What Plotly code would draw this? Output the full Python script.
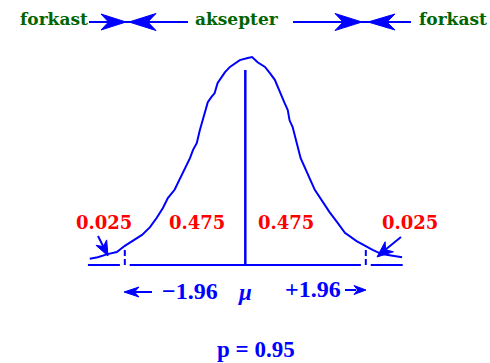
import math
import plotly.graph_objects as go

# ---- data -------------------------------------------------------------
# standard normal curve as drawn (z, density)
curve_z = [-2.53, -2.40, -2.24, -2.09, -1.96, -1.83, -1.68, -1.55, -1.44, -1.34,
           -1.26, -1.15, -0.90, -0.85, -0.79, -0.74, -0.69, -0.66, -0.61, -0.55,
           -0.50, -0.45, -0.38, -0.33, -0.25, -0.17, -0.09, 0.04, 0.11, 0.20,
           0.32, 0.40, 0.48, 0.53, 0.59, 0.64, 0.69, 0.72, 0.77, 0.81,
           0.85, 0.90, 1.13, 1.24, 1.37, 1.49, 1.62, 1.81, 1.94, 2.07,
           2.22, 2.55]
curve_density = [0.012, 0.015, 0.021, 0.025, 0.037, 0.046, 0.058, 0.073, 0.091, 0.110,
                 0.129, 0.145, 0.206, 0.222, 0.235, 0.260, 0.279, 0.295, 0.314, 0.324,
                 0.331, 0.351, 0.362, 0.372, 0.382, 0.389, 0.395, 0.399, 0.401, 0.391,
                 0.382, 0.370, 0.357, 0.343, 0.324, 0.312, 0.299, 0.279, 0.266, 0.247,
                 0.227, 0.206, 0.145, 0.125, 0.102, 0.083, 0.062, 0.046, 0.037, 0.029,
                 0.021, 0.015]

z_crit = 1.96
tail_labels = ["0.025", "0.025"]
half_labels = ["0.475", "0.475"]
region_labels = ["forkast", "aksepter", "forkast"]
crit_labels = ["\u22121.96", "+1.96"]
mu_label = "\u03bc"
p_label = "p = 0.95"

# ---- geometry ---------------------------------------------------------
W, H = 490, 363
X_RANGE = [-3.99, 3.98]
Y_RANGE = [-0.189, 0.511]
PX_X = W / (X_RANGE[1] - X_RANGE[0])
PX_Y = H / (Y_RANGE[1] - Y_RANGE[0])


def xp(px):
    return X_RANGE[0] + px / PX_X


def yp(py):
    return Y_RANGE[1] - py / PX_Y


BLUE = "#0000ff"
RED = "#ff0000"
GREEN = "#006400"
SERIF_WIDE = "DejaVu Serif"
SERIF = "Liberation Serif"

tail_end = 2.56
gap = 0.08
mu_top = 0.376
mark_top = 0.035

fig = go.Figure()
fig.add_trace(go.Scatter(x=curve_z, y=curve_density, mode="lines",
                         line=dict(color=BLUE, width=2), hoverinfo="skip",
                         showlegend=False))

shapes = []


def seg(x0, y0, x1, y1, width=2, dash=None):
    line = dict(color=BLUE, width=width)
    if dash:
        line["dash"] = dash
    shapes.append(dict(type="line", xref="x", yref="y", x0=x0, y0=y0,
                       x1=x1, y1=y1, line=line))


def head(tx, ty, dx, dy, length, width):
    """Filled notched arrowhead with its tip at data point (tx, ty);
    (dx, dy) is the pointing direction in screen pixels (y up)."""
    n = math.hypot(dx, dy)
    ux, uy = dx / n, dy / n
    vx, vy = -uy, ux
    pts = [(0, 0),
           (-length * ux + width / 2 * vx, -length * uy + width / 2 * vy),
           (-0.7 * length * ux, -0.7 * length * uy),
           (-length * ux - width / 2 * vx, -length * uy - width / 2 * vy)]
    path = "M" + " L".join(f"{x:.2f},{y:.2f}" for x, y in pts) + " Z"
    shapes.append(dict(type="path", xref="x", yref="y",
                       xsizemode="pixel", ysizemode="pixel",
                       xanchor=tx, yanchor=ty, path=path,
                       fillcolor=BLUE, line=dict(color=BLUE, width=1)))


# baseline, broken at the critical values
seg(-tail_end, 0, -z_crit - gap, 0)
seg(-z_crit + gap, 0, z_crit - gap, 0)
seg(z_crit + gap, 0, tail_end, 0)
# centre line at mu
seg(0, 0, 0, mu_top, width=2.5)
# dashed markers at the critical values
for s in (-1, 1):
    seg(s * z_crit, 0, s * z_crit, mark_top, width=2, dash="6px,3px")

# region arrows along the top
ty = yp(22)
seg(xp(89), ty, xp(188), ty)
head(xp(126), ty, 1, 0, 25, 16)
head(xp(129), ty, -1, 0, 27, 17)
seg(xp(293), ty, xp(411), ty)
head(xp(362), ty, 1, 0, 27, 17)
head(xp(368), ty, -1, 0, 27, 16)

# pointers from the tail labels
seg(xp(98), yp(236), xp(104), yp(248))
head(xp(108), yp(256), 10, -20, 15, 12)
seg(xp(401), yp(237), xp(385), yp(250))
head(xp(377), yp(257), -24, -20, 16, 13)

# arrows beside the critical values
seg(xp(152), yp(292), xp(135), yp(292))
head(xp(124), yp(292), -1, 0, 15, 10)
seg(xp(345), yp(290), xp(356), yp(290))
head(xp(366), yp(290), 1, 0, 12, 9)

annotations = []


def text(x, y, s, color, size, family, italic=False):
    annotations.append(dict(x=x, y=y, xref="x", yref="y", text=s,
                            showarrow=False, xanchor="center", yanchor="middle",
                            font=dict(family=family, size=size, color=color,
                                      weight="bold",
                                      style="italic" if italic else "normal")))


for cx, s in zip((53.5, 237, 453), region_labels):
    text(xp(cx), yp(19), s, GREEN, 17, SERIF_WIDE)
for cx, s in zip((104, 410), tail_labels):
    text(xp(cx), yp(222), s, RED, 18, SERIF_WIDE)
for cx, s in zip((196.5, 286), half_labels):
    text(xp(cx), yp(222.5), s, RED, 18, SERIF_WIDE)
text(xp(190), yp(291), crit_labels[0], BLUE, 24, SERIF)
text(xp(312.5), yp(289), crit_labels[1], BLUE, 24, SERIF)
text(xp(245), yp(292), mu_label, BLUE, 23, SERIF, italic=True)
text(xp(256), yp(349), p_label, BLUE, 23, SERIF)

fig.update_layout(
    width=W, height=H, margin=dict(l=0, r=0, t=0, b=0),
    paper_bgcolor="white", plot_bgcolor="white",
    xaxis=dict(range=X_RANGE, visible=False, fixedrange=True),
    yaxis=dict(range=Y_RANGE, visible=False, fixedrange=True),
    shapes=shapes, annotations=annotations,
)

fig.write_html("out.html")
